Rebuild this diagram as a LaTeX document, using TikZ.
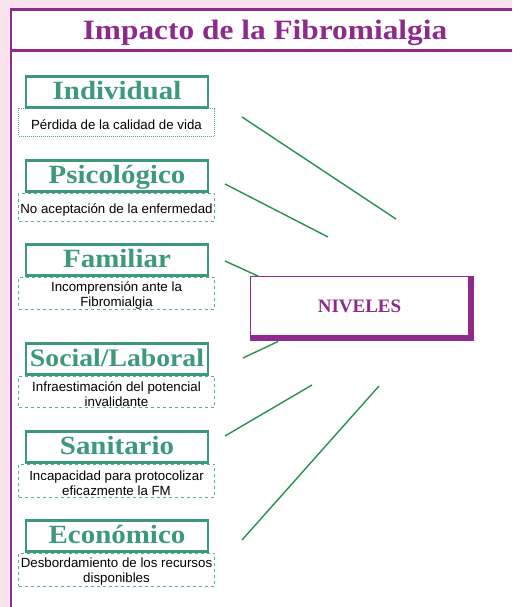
\documentclass[tikz,border=0pt]{standalone}
\usepackage{fontspec}
\setmainfont{Liberation Serif}
\setsansfont{Liberation Sans}
\newfontfamily\hdfont[FakeStretch=1.1]{Liberation Serif}
\newfontfamily\ttlfont[FakeStretch=1.12]{Liberation Serif}
\usetikzlibrary{calc}
\definecolor{bgpink}{HTML}{FBE3EE}
\definecolor{fpurple}{HTML}{8E2A8C}
\definecolor{hgreen}{HTML}{3C9A78}
\definecolor{dgreen}{HTML}{55B08C}
\definecolor{lgreen}{HTML}{2A9050}
\tikzset{
  frame/.style={draw=fpurple, line width=2.4},
  ttl/.style={text=fpurple, font=\ttlfont\fontsize{28}{32}\selectfont\bfseries, inner sep=0, anchor=base},
  hdbox/.style={draw=hgreen, line width=2.2, fill=white, text=hgreen,
    font=\hdfont\fontsize{26.3}{30}\selectfont\bfseries, minimum width=182,
    inner sep=0, text height=23, text depth=8, anchor=base},
  descbox/.style={draw=dgreen, line width=0.9, dashed, fill=white, minimum width=196, inner sep=0},
  descdot/.style={descbox, dash pattern=on 1pt off 1pt},
  desctext/.style={inner sep=0, align=center, font=\sffamily\fontsize{13.3}{15}\selectfont, yshift=-2.5pt},
  conn/.style={draw=lgreen, line width=1.4},
  nivbox/.style={draw=fpurple, line width=1, fill=white, minimum width=217.5, minimum height=59,
    text=fpurple, font=\fontsize{19}{22}\selectfont\bfseries, inner sep=0}
}
\begin{document}
\begin{tikzpicture}[x=1pt,y=-1pt]
\useasboundingbox (0,0) rectangle (512,607);
\fill[bgpink] (0,0) rectangle (512,607);
\fill[white] (10,8) rectangle (512,607);
\draw[frame] (11,9.5) -- (512,9.5);
\draw[frame] (11,50.5) -- (512,50.5);
\draw[frame] (11,8.3) -- (11,607);

\node[ttl] (title) at (265,40) {Impacto de la Fibromialgia};

% description boxes
\node[descdot, minimum height=28] (d1) at (116.5,122) {};
\node[descbox, minimum height=28] (d2) at (116.5,207) {};
\node[descbox, minimum height=32] (d3) at (116.5,293) {};
\node[descbox, minimum height=31] (d4) at (116.5,391.5) {};
\node[descbox, minimum height=33] (d5) at (116.5,480.5) {};
\node[descbox, minimum height=33] (d6) at (116.5,569.5) {};
\node[desctext] (t1) at (d1.center) {Pérdida de la calidad de vida};
\node[desctext] (t2) at (d2.center) {No aceptación de la enfermedad};
\node[desctext] (t3) at (d3.center) {Incomprensión ante la\\Fibromialgia};
\node[desctext] (t4) at (d4.center) {Infraestimación del potencial\\invalidante};
\node[desctext] (t5) at (d5.center) {Incapacidad para protocolizar\\eficazmente la FM};
\node[desctext] (t6) at (d6.center) {Desbordamiento de los recursos\\disponibles};

% header boxes
\node[hdbox] (h1) at (117,99.5) {Individual};
\node[hdbox] (h2) at (117,183.5) {Psicológico};
\node[hdbox] (h3) at (117,267.5) {Familiar};
\node[hdbox, font=\hdfont\fontsize{25.2}{30}\selectfont\bfseries] (h4) at (117,366.5) {Social/Laboral};
\node[hdbox] (h5) at (117,454.5) {Sanitario};
\node[hdbox] (h6) at (117,543.5) {Económico};

% NIVELES
\fill[fpurple] (250,276) rectangle (474,341);
\node[nivbox] (niv) at (359.5,306.2) {NIVELES};

% connectors
\coordinate (a1) at (242,117); \coordinate (b1) at (396,219);
\coordinate (a2) at (225,184); \coordinate (b2) at (328,237);
\coordinate (a3) at (225,261); \coordinate (b3) at (259,276.5);
\coordinate (a4) at (243,358); \coordinate (b4) at (278,341.5);
\coordinate (a5) at (225,436); \coordinate (b5) at (312,385);
\coordinate (a6) at (242,540); \coordinate (b6) at (379,386);
\foreach \i in {1,...,6} {\draw[conn] (a\i) -- (b\i);}
\end{tikzpicture}
\end{document}
